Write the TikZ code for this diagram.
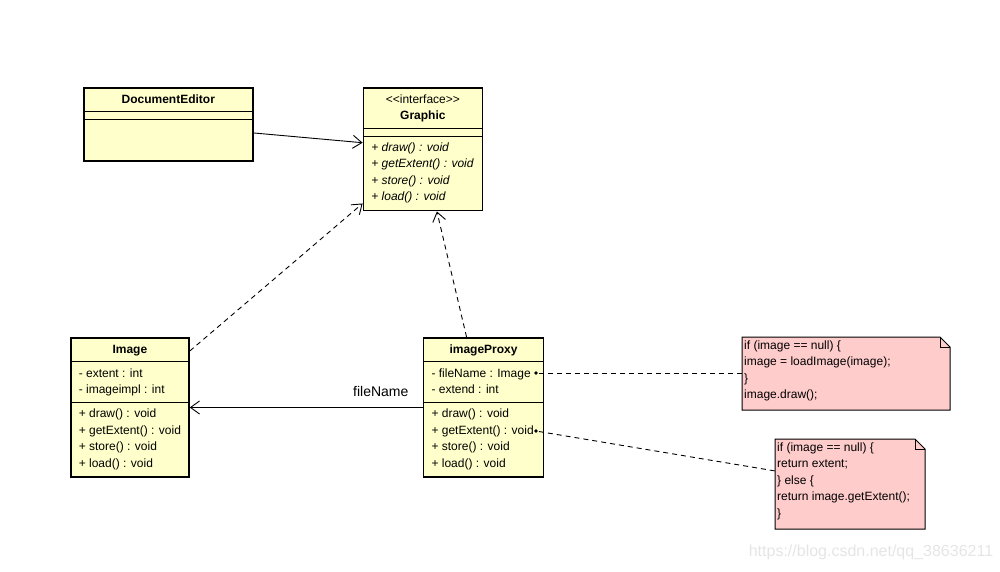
\documentclass[tikz,border=0pt]{standalone}
\usepackage{fontspec}
\setmainfont{Liberation Sans}
\usetikzlibrary{shapes.multipart, positioning, arrows.meta, backgrounds}

\definecolor{classyellow}{RGB}{255,255,204}
\definecolor{notepink}{RGB}{255,204,204}
\newcommand{\umlfont}{\fontsize{12}{16.5}\selectfont}
\newcommand{\emptypart}{\hbox to 1pt{}}

\tikzset{
  umlclass/.style={rectangle split, rectangle split parts=3,
    rectangle split draw splits=false,
    rectangle split part align={center,left,left},
    rectangle split empty part height=0pt, rectangle split empty part depth=0pt,
    draw, line width=1.6pt, fill=classyellow, font=\umlfont,
    inner xsep=8pt, inner ysep=3pt, align=left, anchor=north west},
  notetext/.style={align=left, font=\umlfont, inner xsep=2pt, inner ysep=0.5pt, anchor=north west},
  notebox/.style={draw, line width=1pt, fill=notepink},
  assoc/.style={line width=0.9pt, -{Straight Barb[length=9pt,width=13pt]}},
  realize/.style={assoc, dash pattern=on 5pt off 4pt},
  notelink/.style={line width=0.9pt, dash pattern=on 5pt off 4pt, dash phase=6pt}
}

\begin{document}
\begin{tikzpicture}[x=1pt, y=-1pt]
\useasboundingbox (0,0) rectangle (1000,571);

% classes
\node[umlclass, minimum width=169pt] (editor) at (83,87)
  {\textbf{DocumentEditor}\strut
   \nodepart{two}\emptypart
   \nodepart{three}\phantom{\rule{1pt}{34pt}}};
\node[umlclass, minimum width=119pt, right=109pt of editor.north east, anchor=north west] (graphic)
  {\begin{tabular}{@{}c@{}}<\kern0pt<interface>\kern0pt>\\\textbf{Graphic}\end{tabular}
   \nodepart{two}\emptypart
   \nodepart{three}\strut\textit{+ draw() : void}\\\strut\textit{+ getExtent() : void}\\
   \strut\textit{+ store() : void}\\\strut\textit{+ load() : void}\rule[-6pt]{0pt}{6pt}};
\node[umlclass, minimum width=117pt] (image) at (70,337)
  {\textbf{Image}\strut
   \nodepart{two}\strut- extent : int\\\strut- imageimpl : int
   \nodepart{three}\strut+ draw() : void\\\strut+ getExtent() : void\\
   \strut+ store() : void\\\strut+ load() : void\rule[-6pt]{0pt}{6pt}};
\node[umlclass, minimum width=120pt, right=233pt of image.north east, anchor=north west] (proxy)
  {\textbf{imageProxy}\strut
   \nodepart{two}\strut- fileName : Image\\\strut- extend : int
   \nodepart{three}\strut+ draw() : void\\\strut+ getExtent() : void\\
   \strut+ store() : void\\\strut+ load() : void\rule[-6pt]{0pt}{6pt}};

% splits
\foreach \cls in {editor, graphic, image, proxy} {
  \draw[line width=0.9pt] (\cls.text split west) -- (\cls.text split east);
  \draw[line width=0.9pt] (\cls.two split west) -- (\cls.two split east);
}

% notes
\node[notetext] (note1) at (742,337)
  {\strut if (image == null) \{\\\strut image = loadImage(image);\\\strut \}\\\strut image.draw();};
\node[notetext] (note2) at (775,439)
  {\strut if (image == null) \{\\\strut return extent;\\\strut \} else \{\\\strut return image.getExtent();\\\strut \}};
\begin{scope}[on background layer]
  \draw[notebox] (note1.north west) -- ++(198,0) -- ++(10,10) -- ++(0,63) -- ++(-208,0) -- cycle;
  \draw[line width=1pt] (note1.north west) ++(198,0) -- ++(0,10) -- ++(10,0);
  \draw[notebox] (note2.north west) -- ++(140,0) -- ++(10,10) -- ++(0,80) -- ++(-150,0) -- cycle;
  \draw[line width=1pt] (note2.north west) ++(140,0) -- ++(0,10) -- ++(10,0);
\end{scope}

% connectors
\path[assoc] ([yshift=-8.5pt]editor.east) edge ([yshift=6.5pt]graphic.west)
  (proxy.west) edge node[pos=0.18, above=7pt, font=\fontsize{14}{16}\selectfont] {fileName} (image.east);
\path[realize] ([yshift=-14pt]image.north east) edge ([yshift=8pt]graphic.south west)
  ([xshift=-17pt]proxy.north) edge ([xshift=14pt]graphic.south);

\coordinate (fnDot) at (536,373);
\coordinate (gxDot) at (536,431);
\fill (fnDot) circle (1.8pt);
\fill (gxDot) circle (1.8pt);
\draw[notelink] (fnDot) -- (fnDot -| note1.west);
\draw[notelink] (gxDot) -- ([yshift=10pt]note2.west);

\node[text=black!10, font=\fontsize{16}{18}\selectfont] (mark) at (871,552) {https://blog.csdn.net/qq\_38636211};
\end{tikzpicture}
\end{document}
